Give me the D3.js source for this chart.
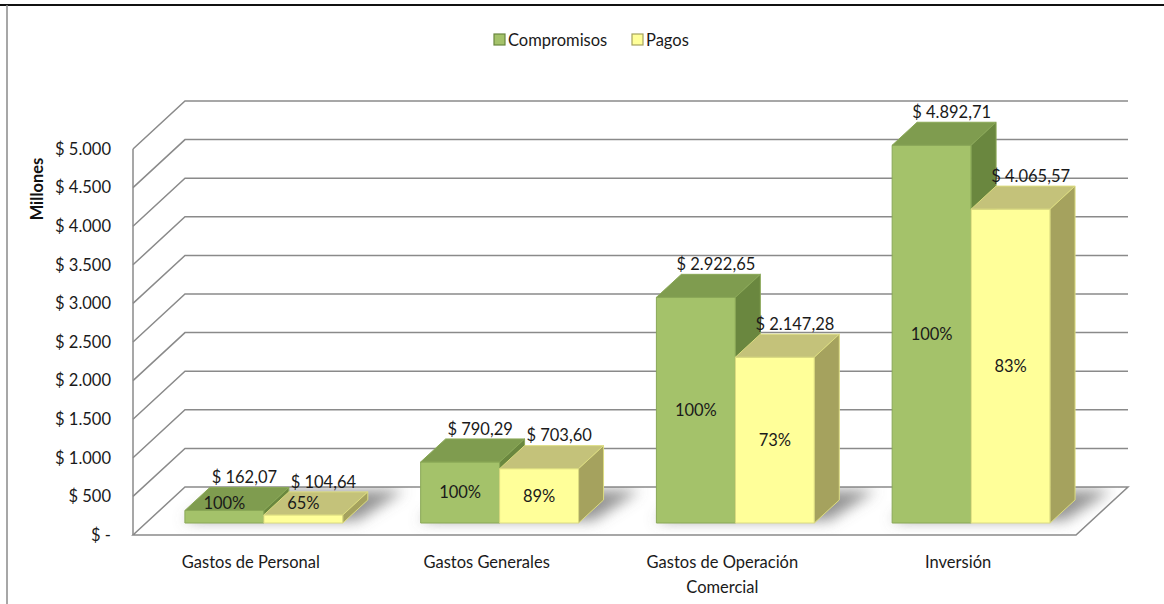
<!DOCTYPE html>
<html>
<head>
<meta charset="utf-8">
<script src="https://cdn.jsdelivr.net/npm/d3@7"></script>
<style>
  body { margin: 0; background: #fff; }
  text { font-family: Lato, "Open Sans", sans-serif; }
</style>
</head>
<body>
<div id="root"></div>
<script>
var categories = ['Gastos de Personal', 'Gastos Generales', 'Gastos de Operación Comercial', 'Inversión'];
var seriesNames = ['Compromisos', 'Pagos'];
var compromisos = [162.07, 790.29, 2922.65, 4892.71];
var pagos = [104.64, 703.60, 2147.28, 4065.57];
var pctCompromisos = ['100%', '100%', '100%', '100%'];
var pctPagos = ['65%', '89%', '73%', '83%'];
var tickValues = [0, 500, 1000, 1500, 2000, 2500, 3000, 3500, 4000, 4500, 5000];

var width = 1164, height = 604;
var fontSize = 16.5;

// oblique 3d: front plane at floorY, depth vector goes up and right
var floorY = 535, depthX = 52, depthY = -48;
var barDepth0 = 0.25, barDepth1 = 0.73;

var colors = {
  Compromisos: { front: '#a4c26a', top: '#7f9c4f', side: '#6a873f', edge: '#8aa857' },
  Pagos: { front: '#ffff99', top: '#c4c27a', side: '#a5a25e', edge: '#dcdc80' }
};

var es = d3.formatLocale({ decimal: ',', thousands: '.', grouping: [3], currency: ['$ ', ''] });
var fmtValue = es.format(',.2f');
var fmtTick = es.format(',.0f');

var svg = d3.select('#root')
  .append('svg')
    .attr('width', width)
    .attr('height', height);

var defs = svg.append('defs');
defs.append('filter')
    .attr('id', 'blur')
    .attr('x', '-50%').attr('y', '-50%').attr('width', '200%').attr('height', '200%')
  .append('feGaussianBlur')
    .attr('stdDeviation', 7);

// frame
svg.append('line')
    .attr('x1', 0).attr('x2', width).attr('y1', 5).attr('y2', 5)
    .attr('stroke', '#111').attr('stroke-width', 2);
svg.append('line')
    .attr('x1', 7).attr('x2', 7).attr('y1', 5).attr('y2', height)
    .attr('stroke', '#8a8a8a').attr('stroke-width', 1.5);

var x = d3.scaleBand()
  .domain(categories)
  .range([133, 1076])
  .paddingInner(0.33)
  .paddingOuter(0.165);

var xSeries = d3.scaleBand()
  .domain(seriesNames)
  .range([0, x.bandwidth()]);

var h = d3.scaleLinear()
  .domain([0, 5000])
  .range([0, 386]);

var yFront = d3.scaleLinear()
  .domain([0, 5000])
  .range([floorY, floorY - h(5000)]);

var proj = (px, d, v) => [px + depthX * d, floorY + depthY * d - h(v)];
var pts = list => list.map(p => p.join(',')).join(' ');

var x0 = x.range()[0], x1 = x.range()[1];
var grid = svg.append('g')
  .attr('stroke', '#8a8a8a')
  .attr('stroke-width', 1.5)
  .attr('fill', 'none');

// back wall gridlines and left wall diagonals
tickValues.filter(v => v > 0).forEach(v => {
  var a = proj(x0, 0, v), b = proj(x0, 1, v), c = proj(x1, 1, v);
  grid.append('polyline')
    .attr('points', pts([a, b, c]));
});
grid.append('line')
    .attr('x1', x0).attr('x2', x0)
    .attr('y1', floorY).attr('y2', yFront(5000));

// floor
svg.append('polygon')
    .attr('points', pts([proj(x0, 0, 0), proj(x1, 0, 0), proj(x1, 1, 0), proj(x0, 1, 0)]))
    .attr('fill', '#fff')
    .attr('stroke', '#8a8a8a')
    .attr('stroke-width', 1.5);

var floorClip = defs.append('clipPath').attr('id', 'floorClip');
floorClip.append('polygon')
    .attr('points', pts([proj(x0, 0, 0), proj(x1, 0, 0), proj(x1, 1, 0), proj(x0, 1, 0)]));

var bars = [];
categories.forEach((c, i) => {
  bars.push({ cat: c, series: 'Compromisos', value: compromisos[i], pct: pctCompromisos[i] });
  bars.push({ cat: c, series: 'Pagos', value: pagos[i], pct: pctPagos[i] });
});

// floor shadows
var shadowG = svg.append('g')
  .attr('clip-path', 'url(#floorClip)')
  .append('g')
    .attr('filter', 'url(#blur)');
categories.forEach(c => {
  var left = x(c) - 4, right = x(c) + x.bandwidth() + 12;
  shadowG.append('polygon')
      .attr('points', pts([proj(left, barDepth0 + 0.05, 0), proj(right, barDepth0 + 0.05, 0),
        proj(right + 14, barDepth1 + 0.2, 0), proj(left + 14, barDepth1 + 0.2, 0)]))
      .attr('fill', '#6f6f6f')
      .attr('opacity', 0.75);
});

// bars
var barG = svg.append('g');
bars.forEach(d => {
  var l = x(d.cat) + xSeries(d.series), r = l + xSeries.bandwidth();
  var col = colors[d.series];
  var g = barG.append('g')
    .attr('stroke', col.edge)
    .attr('stroke-width', 1)
    .attr('stroke-linejoin', 'round');
  g.append('polygon')
      .attr('points', pts([proj(l, barDepth0, 0), proj(r, barDepth0, 0), proj(r, barDepth0, d.value), proj(l, barDepth0, d.value)]))
      .attr('fill', col.front);
  g.append('polygon')
      .attr('points', pts([proj(l, barDepth0, d.value), proj(r, barDepth0, d.value), proj(r, barDepth1, d.value), proj(l, barDepth1, d.value)]))
      .attr('fill', col.top);
  g.append('polygon')
      .attr('points', pts([proj(r, barDepth0, 0), proj(r, barDepth1, 0), proj(r, barDepth1, d.value), proj(r, barDepth0, d.value)]))
      .attr('fill', col.side);
});

// percentage labels on the front face
svg.append('g')
  .selectAll('text')
  .data(bars)
  .enter()
  .append('text')
    .attr('x', d => proj(x(d.cat) + xSeries(d.series) + xSeries.bandwidth() / 2, barDepth0, 0)[0])
    .attr('y', d => {
      var bottom = proj(0, barDepth0, 0)[1], top = proj(0, barDepth0, d.value)[1];
      return Math.min((top + bottom) / 2, bottom - 20);
    })
    .attr('dy', '0.35em')
    .attr('text-anchor', 'middle')
    .attr('font-size', fontSize)
    .attr('fill', '#1a1a1a')
    .text(d => d.pct);

// value labels above bars
svg.append('g')
  .selectAll('text')
  .data(bars)
  .enter()
  .append('text')
    .attr('x', d => proj(x(d.cat) + xSeries(d.series) + xSeries.bandwidth() / 2, barDepth0, d.value)[0] + 20)
    .attr('y', d => proj(0, barDepth0, d.value)[1] - 33)
    .attr('dy', '0.35em')
    .attr('text-anchor', 'middle')
    .attr('font-size', fontSize)
    .attr('fill', '#1a1a1a')
    .text(d => '$ ' + fmtValue(d.value));

// y axis labels
var yAxis = svg.append('g')
  .attr('transform', 'translate(' + x0 + ',0)')
  .call(d3.axisLeft(yFront)
    .tickValues(tickValues)
    .tickSize(0)
    .tickPadding(22)
    .tickFormat(v => v === 0 ? '$ -' : '$ ' + fmtTick(v)));
yAxis.select('.domain').remove();
yAxis.selectAll('text')
    .attr('font-family', 'Lato, sans-serif')
    .attr('font-size', fontSize)
    .attr('fill', '#1a1a1a');

svg.append('text')
    .attr('transform', 'translate(43,189) rotate(-90)')
    .attr('text-anchor', 'middle')
    .attr('font-family', '"Liberation Sans", Arial, sans-serif')
    .attr('font-weight', 'bold')
    .attr('font-size', 16.5)
    .attr('fill', '#111')
    .text('Millones');

// category labels, wrapped like the original
var catLines = {
  'Gastos de Personal': ['Gastos de Personal'],
  'Gastos Generales': ['Gastos Generales'],
  'Gastos de Operación Comercial': ['Gastos de Operación', 'Comercial'],
  'Inversión': ['Inversión']
};
var catText = svg.append('g')
  .selectAll('text')
  .data(categories)
  .enter()
  .append('text')
    .attr('x', d => x(d) + x.bandwidth() / 2)
    .attr('y', 568)
    .attr('text-anchor', 'middle')
    .attr('font-size', fontSize)
    .attr('fill', '#1a1a1a');
catText.selectAll('tspan')
  .data(d => catLines[d])
  .enter()
  .append('tspan')
    .attr('x', function () { return this.parentNode.getAttribute('x'); })
    .attr('dy', (d, i) => i === 0 ? 0 : 25)
    .text(d => d);

// legend
var legend = svg.append('g')
  .attr('transform', 'translate(494,34)');
var legendX = [0, 138];
seriesNames.forEach((s, i) => {
  var item = legend.append('g')
    .attr('transform', 'translate(' + legendX[i] + ',0)');
  item.append('rect')
      .attr('width', 11)
      .attr('height', 11)
      .attr('fill', colors[s].front)
      .attr('stroke', colors[s].side)
      .attr('stroke-width', 1.2);
  item.append('text')
      .attr('x', 14)
      .attr('y', 12)
      .attr('font-size', fontSize)
      .attr('fill', '#1a1a1a')
      .text(s);
});
</script>
</body>
</html>
